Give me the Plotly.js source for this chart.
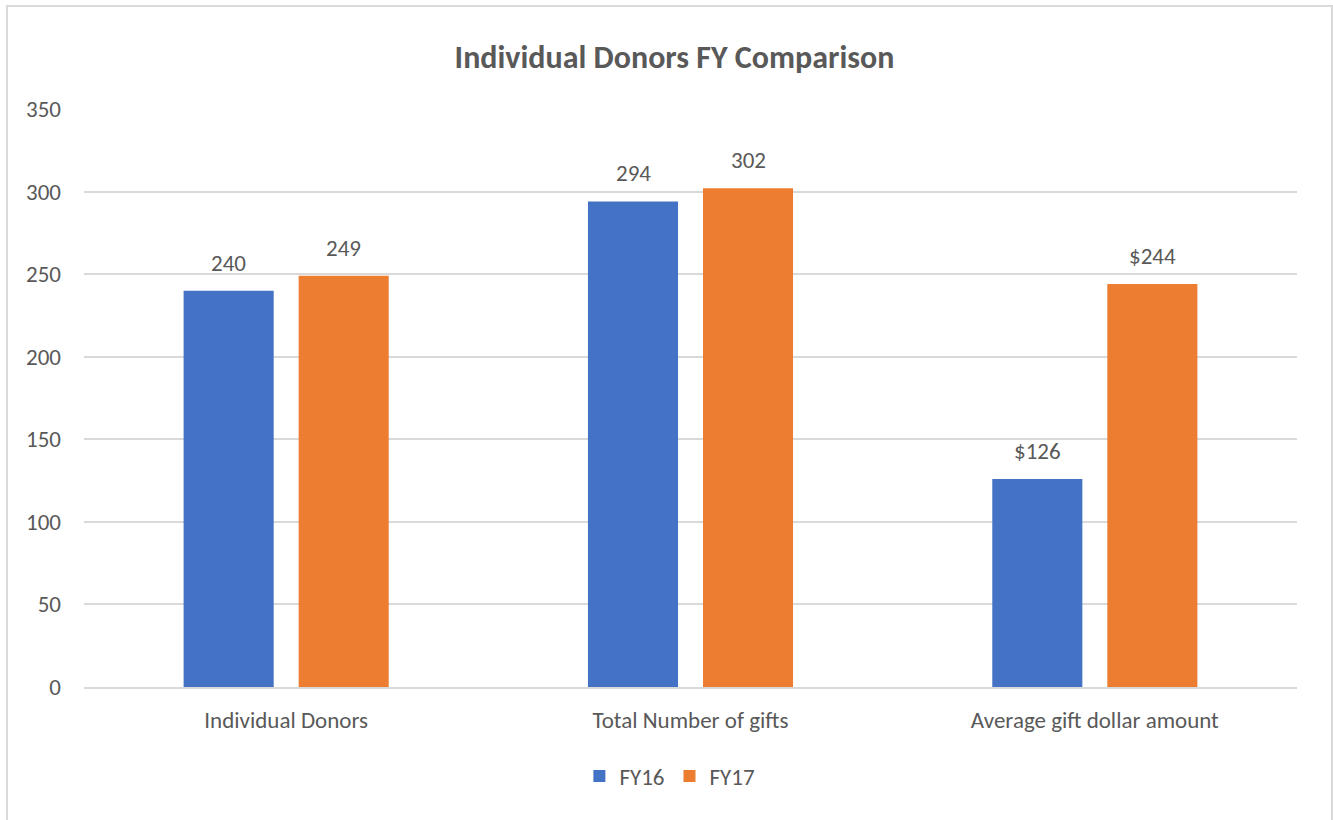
<!DOCTYPE html>
<html>
<head>
<meta charset="utf-8">
<script src="https://cdn.plot.ly/plotly-3.0.1.min.js"></script>
<style>
html,body{margin:0;padding:0;background:#fff;}
#wrap{position:relative;width:1333px;height:820px;overflow:hidden;}
#chart{width:1333px;height:820px;}
#frame{position:absolute;left:6px;top:5px;width:1323px;height:840px;border:2px solid #D9D9D9;pointer-events:none;}
</style>
</head>
<body>
<div id="wrap"><div id="chart"></div><div id="frame"></div></div>
<script>
const categories = ["Individual Donors", "Total Number of gifts", "Average gift dollar amount"];
const fy16 = [240, 294, 126];
const fy17 = [249, 302, 244];
const labelPrefix = ["", "", "$"];
const seriesNames = ["FY16", "FY17"];
const yTicks = [0, 50, 100, 150, 200, 250, 300, 350];

const font = "Calibri, Carlito, Lato, sans-serif";
const txt = "#595959";
const colors = ["#4472C4", "#ED7D31"];

function labels(vals){ return vals.map((v,i)=>labelPrefix[i]+v); }

const series = [fy16, fy17];
const traces = series.map((vals, s) => ({
  type:"bar", name:seriesNames[s], x:categories, y:vals,
  marker:{color:colors[s]}, hoverinfo:"y"
}));

const annotations = [];
series.forEach((vals, s) => {
  const t = labels(vals);
  vals.forEach((v, i) => {
    annotations.push({x:categories[i], y:v, xref:"x", yref:"y", text:t[i], showarrow:false,
      xshift:(s===0?-57.5:57.5), yshift:28, yanchor:"middle", xanchor:"center",
      font:{size:23, color:txt, family:font}});
  });
});

const layout = {
  width:1333, height:820,
  margin:{l:84, r:36, t:109, b:133, pad:0},
  paper_bgcolor:"#fff", plot_bgcolor:"#fff",
  font:{family:font, color:txt, size:23},
  title:{text:"<b>Individual Donors FY Comparison</b>", x:0.506, xanchor:"center", y:0.931, yanchor:"middle", yref:"container",
         font:{size:32, color:txt, family:font}},
  barmode:"group", bargap:0.431, bargroupgap:0.217,
  xaxis:{type:"category", showgrid:false, showline:true, linecolor:"#D9D9D9", linewidth:2,
         ticks:"", ticklabelstandoff:11, tickfont:{size:23,color:txt}, automargin:false},
  yaxis:{range:[0,350], tickvals:yTicks, showgrid:true, gridcolor:"#D9D9D9", gridwidth:2,
         zeroline:false, showline:false, ticks:"", ticklabelstandoff:22, tickfont:{size:23,color:txt}, automargin:false},
  legend:{orientation:"h", x:0.483, xanchor:"center", y:-0.154, yanchor:"middle",
          font:{size:23,color:txt}, itemwidth:30, traceorder:"normal"},
  annotations: annotations,
  showlegend:true
};

Plotly.newPlot("chart", traces, layout, {displayModeBar:false, staticPlot:true});
</script>
</body>
</html>
